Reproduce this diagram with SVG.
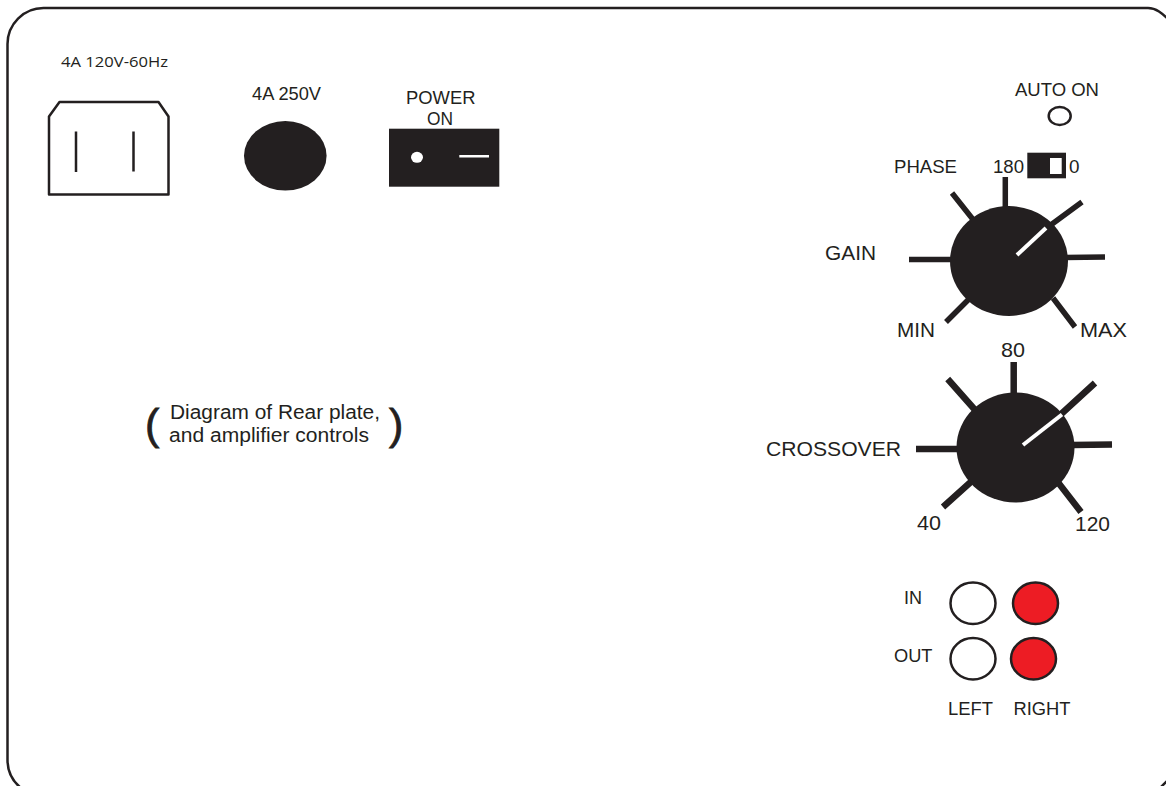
<svg xmlns="http://www.w3.org/2000/svg" width="1166" height="786" viewBox="0 0 1166 786">
<style>
text{font-family:"Liberation Sans",Arial,sans-serif;fill:#231f20;font-size:17.500px}
.big{font-size:20.500px}
.cap{font-size:19.500px}
.paren{font-size:43px;stroke:#231f20;stroke-width:0.800px}
.tick{stroke:#231f20;stroke-width:6.500;fill:none}
.thin{stroke:#231f20;stroke-width:5.500;fill:none}
.blk{fill:#231f20}
.jack{stroke:#231f20;stroke-width:2.500;fill:#fff}
.red{fill:#ed1c24}
.wh{stroke:#fff;stroke-width:4;fill:none}
.line{stroke:#231f20;stroke-width:2.500;fill:none}
</style>
<rect width="1166" height="786" fill="#fff"/>
<path id="frame" class="line" d="M21 788A36 36 0 0 1 7.500 760V44A36 36 0 0 1 43.500 8H1148C1156 8 1162 13 1170 21M1160 788L1170 778"/>
<g id="inlet">
<path class="line" d="M49 194.500V116.500L59.500 102H158.500L168.500 116.500V194.500Z" stroke-linejoin="round"/>
<path class="line" d="M76 131.500V172M133.500 131.500V171.500"/>
<text x="61" y="67" textLength="107" lengthAdjust="spacingAndGlyphs" style="font-family:'Open Sans',sans-serif;font-size:15px">4A 120V-60Hz</text>
</g>
<g id="fuse">
<ellipse class="blk" cx="285.300" cy="155.800" rx="41.300" ry="34.800"/>
<text x="252" y="99.500" textLength="69" lengthAdjust="spacingAndGlyphs">4A 250V</text>
</g>
<g id="power">
<rect class="blk" x="389" y="128.700" width="110.300" height="58"/>
<ellipse cx="417" cy="157.300" rx="6" ry="5.500" fill="#fff"/>
<rect x="459.300" y="155" width="29.700" height="2.500" fill="#fff"/>
<text x="406" y="104" textLength="69.500" lengthAdjust="spacingAndGlyphs">POWER</text>
<text x="427" y="125" textLength="26" lengthAdjust="spacingAndGlyphs">ON</text>
</g>
<g id="auto-on">
<text x="1015" y="96" textLength="84" lengthAdjust="spacingAndGlyphs">AUTO ON</text>
<ellipse class="line" cx="1059.700" cy="116" rx="11" ry="9" stroke-width="2"/>
</g>
<g id="phase">
<text x="894" y="173" textLength="63" lengthAdjust="spacingAndGlyphs">PHASE</text>
<text x="993" y="173" textLength="31" lengthAdjust="spacingAndGlyphs">180</text>
<rect class="blk" x="1027.300" y="152.700" width="38.700" height="25.600"/>
<rect x="1050" y="158" width="11.700" height="16" fill="#fff"/>
<text x="1069" y="173" textLength="10.500" lengthAdjust="spacingAndGlyphs">0</text>
</g>
<g id="gain-knob">
<path class="thin" d="M1005.300 177V212M952 193L975 222M909 259.500H955M946 322L970 298M1053 298L1075 327M1065 257.500L1105 257M1048 227L1082 202"/>
<ellipse class="blk" cx="1009" cy="261" rx="59" ry="55"/>
<path class="wh" d="M1017 255L1046 228"/>
<text class="big" x="825" y="260" textLength="51" lengthAdjust="spacingAndGlyphs">GAIN</text>
<text class="big" x="897" y="336.500" textLength="38" lengthAdjust="spacingAndGlyphs">MIN</text>
<text class="big" x="1080" y="337" textLength="47" lengthAdjust="spacingAndGlyphs">MAX</text>
</g>
<g id="crossover-knob">
<path class="tick" d="M1013.700 362V396M947.700 379L976 411M916 449H960M943 507L973 480M1057 481L1081 512M1072 445L1112 444.500M1059 416L1095 383"/>
<ellipse class="blk" cx="1015.500" cy="447.500" rx="59" ry="55"/>
<path class="wh" d="M1023 445L1062 414.500"/>
<text class="big" x="766" y="455.500" textLength="135" lengthAdjust="spacingAndGlyphs">CROSSOVER</text>
<text class="big" x="1001" y="356.500" textLength="24" lengthAdjust="spacingAndGlyphs">80</text>
<text class="big" x="917" y="529.500" textLength="24" lengthAdjust="spacingAndGlyphs">40</text>
<text class="big" x="1075" y="531" textLength="35" lengthAdjust="spacingAndGlyphs">120</text>
</g>
<g id="jacks">
<ellipse class="jack" cx="973" cy="603.300" rx="22.500" ry="20.700"/>
<ellipse class="jack red" cx="1035.500" cy="603.300" rx="22.500" ry="20.700"/>
<ellipse class="jack" cx="973" cy="658.700" rx="22.500" ry="20.700"/>
<ellipse class="jack red" cx="1033.500" cy="658.700" rx="22.500" ry="20.700"/>
<text x="904" y="604" textLength="18" lengthAdjust="spacingAndGlyphs">IN</text>
<text x="894" y="661.500" textLength="38.500" lengthAdjust="spacingAndGlyphs">OUT</text>
<text x="948" y="715" textLength="45" lengthAdjust="spacingAndGlyphs">LEFT</text>
<text x="1013.500" y="715" textLength="57" lengthAdjust="spacingAndGlyphs">RIGHT</text>
</g>
<g id="caption">
<text class="cap" x="170" y="418.500" textLength="210" lengthAdjust="spacingAndGlyphs">Diagram of Rear plate,</text>
<text class="cap" x="169" y="442" textLength="200" lengthAdjust="spacingAndGlyphs">and amplifier controls</text>
<text class="paren" x="145" y="438.500">(</text>
<text class="paren" x="389" y="438.500">)</text>
</g>
</svg>
